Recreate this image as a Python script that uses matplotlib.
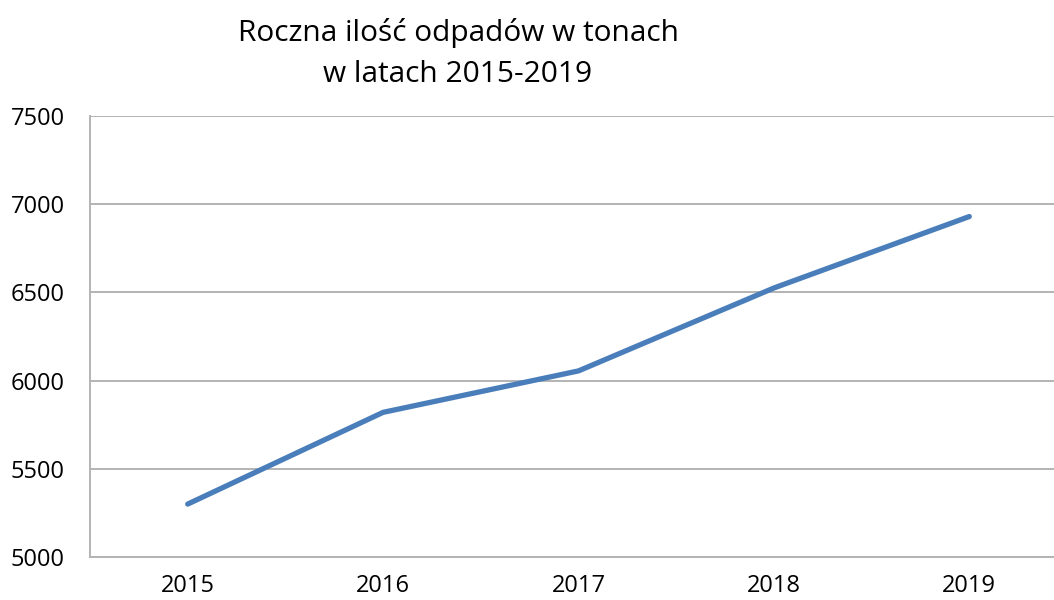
import matplotlib
matplotlib.use('Agg')
from matplotlib import pyplot as plt

years = ['2015', '2016', '2017', '2018', '2019']
waste_tons = [5300, 5820, 6055, 6525, 6930]
y_ticks = [5000, 5500, 6000, 6500, 7000, 7500]

plt.rcParams['font.family'] = ['Open Sans', 'DejaVu Sans']

fig = plt.figure(figsize=(10.54, 6), dpi=100)
ax = fig.add_axes([90 / 1054, 43 / 600, 977 / 1054, 441 / 600])

x = range(len(years))
ax.plot(x, waste_tons, color='#4a7ebb', linewidth=3.8, solid_capstyle='round')

ax.set_xlim(-0.5, len(years) - 0.5)
ax.set_ylim(5000, 7500)
ax.set_yticks(y_ticks)
ax.set_xticks(list(x))
ax.set_xticklabels(years)
ax.grid(axis='y', color='#b3b3b3', linewidth=1.4)
ax.set_axisbelow(True)
for side in ['top', 'right']:
    ax.spines[side].set_visible(False)
ax.spines['left'].set_color('#b3b3b3')
ax.spines['bottom'].set_color('#b3b3b3')
ax.spines['left'].set_linewidth(1.4)
ax.spines['bottom'].set_linewidth(1.4)
ax.tick_params(length=0, labelsize=17)
ax.tick_params(axis='y', pad=18)
ax.tick_params(axis='x', pad=12)

# title, two lines placed by baseline
fig.text(458 / 1054, 1 - 41 / 600, 'Roczna ilość odpadów w tonach',
         ha='center', va='baseline', fontsize=21.5)
fig.text(458 / 1054, 1 - 82 / 600, 'w latach 2015-2019',
         ha='center', va='baseline', fontsize=21.5)

fig.savefig('out.png', dpi=100)
